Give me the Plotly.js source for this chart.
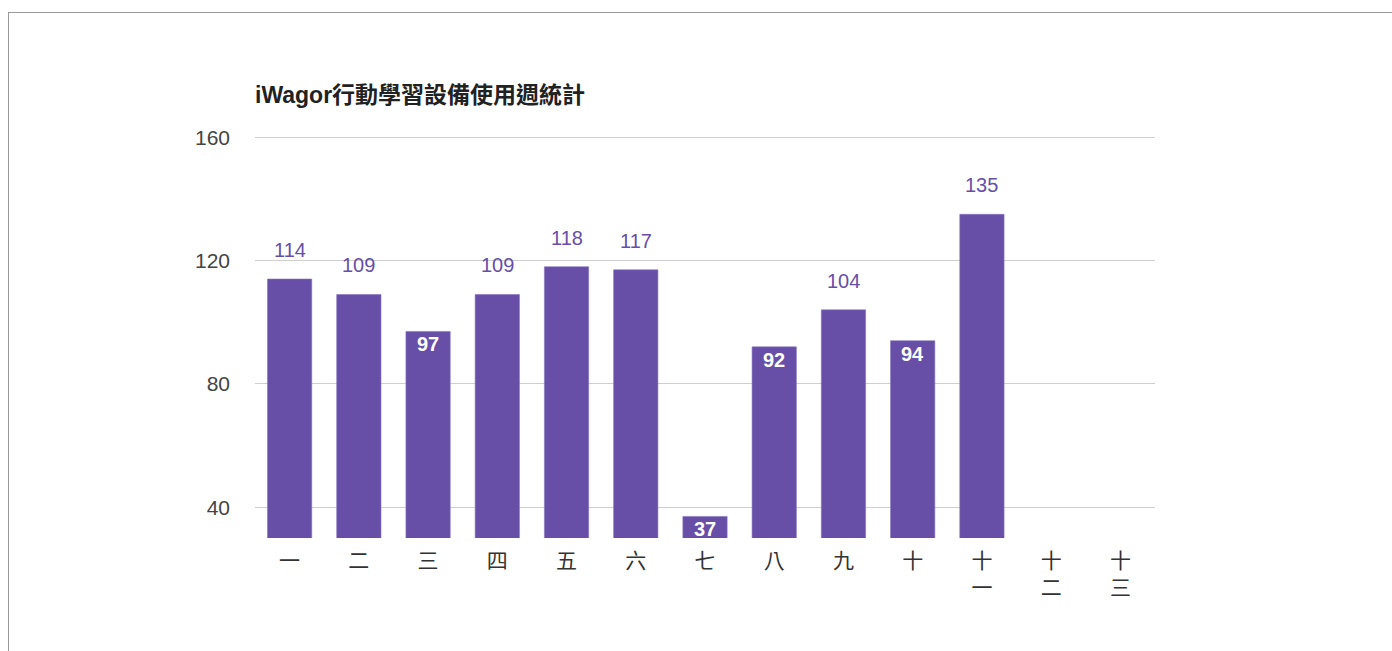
<!DOCTYPE html>
<html>
<head>
<meta charset="utf-8">
<script src="https://cdn.plot.ly/plotly-3.0.1.min.js"></script>
<style>
  html, body { margin: 0; padding: 0; background: #fff; overflow: hidden; }
  #frame { position: absolute; left: 8px; top: 12px; width: 2000px; height: 2000px; border: 1px solid #9a9a9a; box-sizing: border-box; }
  #chart { position: absolute; left: 0; top: 0; width: 1392px; height: 651px; }
</style>
</head>
<body>
<div id="frame"></div>
<div id="chart"></div>
<script>
// ---- data ----
const weeks = ["一", "二", "三", "四", "五", "六", "七", "八", "九", "十", "十<br>一", "十<br>二", "十<br>三"];
const usage = [114, 109, 97, 109, 118, 117, 37, 92, 104, 94, 135, null, null];
const yTicks = [40, 80, 120, 160];
const chartTitle = "iWagor行動學習設備使用週統計";

// ---- drawing ----
const purple = "#674ea7";
const insideIdx = new Set([2, 6, 7, 9]); // labels drawn inside the bar in the reference

const annotations = [];
usage.forEach((v, i) => {
  if (v === null) return;
  const inside = insideIdx.has(i);
  annotations.push({
    x: weeks[i], y: v, xref: "x", yref: "y",
    text: inside ? "<b>" + v + "</b>" : String(v),
    showarrow: false,
    yanchor: "middle",
    yshift: inside ? -13 : 29,
    font: { family: "Liberation Sans, Arial, sans-serif", size: 20, color: inside ? "#ffffff" : purple }
  });
});

const trace = {
  type: "bar",
  x: weeks,
  y: usage,
  marker: { color: purple, line: { color: "#8577c0", width: 0.6 } },
  hoverinfo: "x+y"
};

const layout = {
  width: 1392, height: 651,
  margin: { l: 255, r: 237, t: 136, b: 113 },
  paper_bgcolor: "rgba(0,0,0,0)",
  plot_bgcolor: "rgba(0,0,0,0)",
  showlegend: false,
  bargap: 0.36,
  title: {
    text: "<b>" + chartTitle + "</b>",
    x: 0, xanchor: "left", xref: "paper",
    y: 1 - 95 / 651, yanchor: "middle", yref: "container",
    font: { family: "Liberation Sans, Arial, 'Noto Sans CJK TC', sans-serif", size: 23, color: "#222" }
  },
  xaxis: {
    type: "category",
    tickfont: { family: "'Noto Sans CJK TC', sans-serif", size: 21, color: "#333" },
    ticks: "", showline: false, showgrid: false, zeroline: false,
    ticklabelstandoff: 8,
    fixedrange: true
  },
  yaxis: {
    range: [30, 160.4],
    tickvals: yTicks,
    ticktext: yTicks.map(String),
    tickfont: { family: "Liberation Sans, Arial, sans-serif", size: 21, color: "#444" },
    ticks: "", showline: false, zeroline: false,
    gridcolor: "#cfcfcf", gridwidth: 1,
    ticklabelstandoff: 24,
    fixedrange: true
  },
  annotations: annotations
};

Plotly.newPlot("chart", [trace], layout, { displayModeBar: false, staticPlot: true });
</script>
</body>
</html>
